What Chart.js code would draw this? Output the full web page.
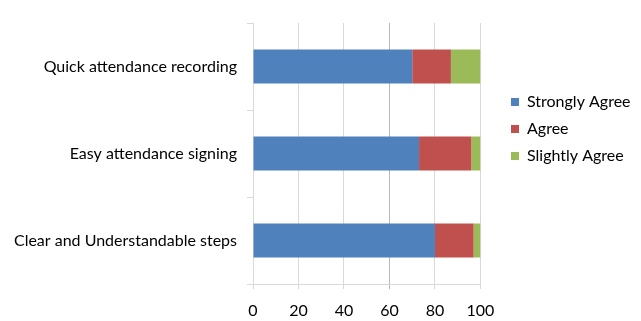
<!DOCTYPE html>
<html><head><meta charset="utf-8">
<script src="https://cdn.jsdelivr.net/npm/chart.js@4"></script>
<style>html,body{margin:0;padding:0;background:#fff}#w{width:641px;height:321px}</style>
</head><body><div id="w"><canvas id="c"></canvas></div>
<script>
const categories = ["Quick attendance recording", "Easy attendance signing", "Clear and Understandable steps"];
const stronglyAgree = [70, 73, 80];
const agree = [17, 23, 17];
const slightlyAgree = [13, 4, 3];
const xTicks = [0, 20, 40, 60, 80, 100];
const seriesNames = ["Strongly Agree", "Agree", "Slightly Agree"];
const colors = ["#4F81BD", "#C0504D", "#9BBB59"];

const FONT = {family: "Lato, 'Open Sans', sans-serif", size: 16};

const legendPlace = {
  id: 'legendPlace',
  afterLayout(chart) {
    const l = chart.legend;
    if (!l) return;
    const w = l.width;
    l.left = 500; l.right = l.left + w;
    l.top = 83; l.bottom = l.top + 100;
    l.height = 100;
  }
};

new Chart(document.getElementById('c'), {
  type: 'bar',
  data: {
    labels: categories,
    datasets: [stronglyAgree, agree, slightlyAgree].map((d, i) => ({
      label: seriesNames[i], data: d, backgroundColor: colors[i],
      categoryPercentage: 1, barPercentage: 0.39, borderWidth: 0
    }))
  },
  options: {
    indexAxis: 'y',
    responsive: true, maintainAspectRatio: false, animation: false,
    layout: {padding: {top: 23, bottom: 0, left: 0, right: 20}},
    plugins: {
      legend: {
        position: 'right', align: 'start',
        labels: {boxWidth: 8, boxHeight: 8, padding: 11, color: '#000', font: FONT}
      },
      tooltip: {enabled: false}
    },
    scales: {
      x: {
        stacked: true, min: 0, max: 100,
        afterBuildTicks(s) { s.ticks = xTicks.map(v => ({value: v})); },
        afterFit(s) { s.height = 37; },
        ticks: {color: '#000', font: FONT, padding: 12},
        grid: {color: c => (c.tick && c.tick.value === 60) ? '#b8b8b8' : '#d9d9d9', tickLength: 5},
        border: {color: '#d9d9d9'}
      },
      y: {
        stacked: true,
        afterFit(s) { s.width = 253; },
        ticks: {color: '#000', font: FONT, padding: 10},
        grid: {drawOnChartArea: false, color: '#d9d9d9', tickLength: 6},
        border: {color: '#d9d9d9'}
      }
    }
  },
  plugins: [legendPlace]
});
</script></body></html>
